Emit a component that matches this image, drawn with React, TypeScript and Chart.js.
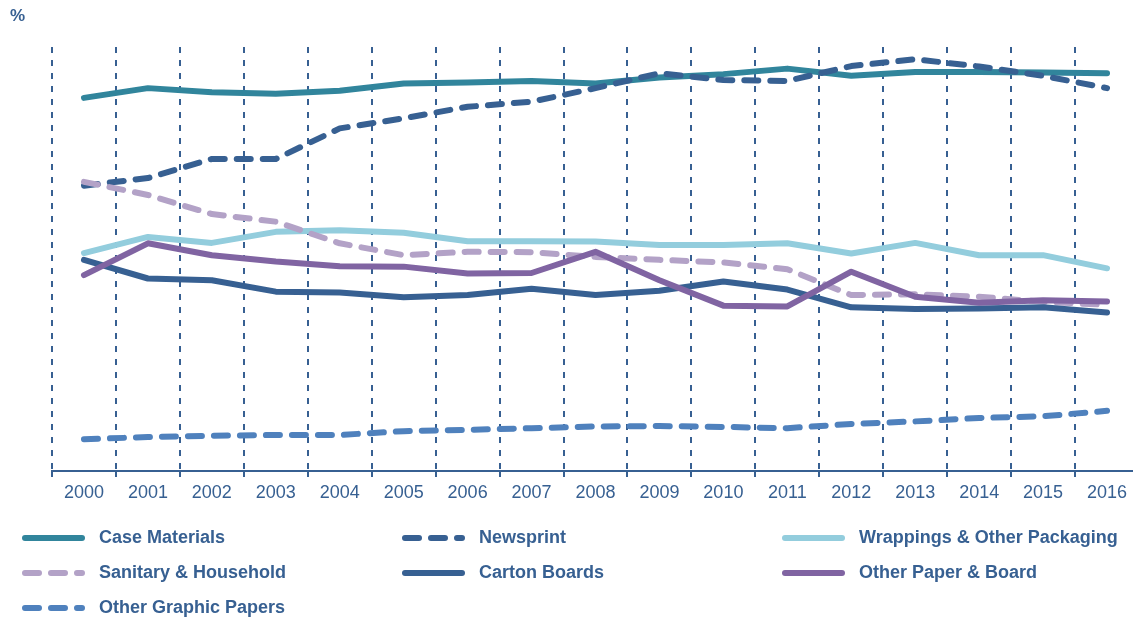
import React, { useEffect, useRef } from 'react';
import { Chart, registerables } from 'chart.js';

Chart.register(...registerables);

const years = ['2000', '2001', '2002', '2003', '2004', '2005', '2006', '2007', '2008', '2009', '2010', '2011', '2012', '2013', '2014', '2015', '2016'];

const caseMaterials = [88.0, 90.3, 89.3, 89.0, 89.7, 91.4, 91.6, 92.0, 91.4, 92.8, 93.6, 94.9, 93.2, 94.1, 94.1, 94.0, 93.8];
const newsprint = [67.3, 69.1, 73.6, 73.6, 80.8, 83.2, 85.9, 87.1, 90.3, 93.8, 92.2, 92.0, 95.5, 97.1, 95.4, 93.2, 90.3];
const wrappings = [51.4, 55.2, 53.8, 56.4, 56.8, 56.2, 54.2, 54.2, 54.1, 53.3, 53.3, 53.7, 51.3, 53.8, 50.9, 50.9, 47.8];
const sanitary = [68.2, 65.1, 60.6, 58.8, 53.7, 50.9, 51.7, 51.6, 50.5, 49.8, 49.2, 47.6, 41.5, 41.7, 41.1, 39.9, 39.2];
const cartonBoards = [49.8, 45.4, 45.0, 42.3, 42.1, 41.0, 41.5, 43.0, 41.5, 42.5, 44.7, 42.8, 38.6, 38.2, 38.3, 38.6, 37.4];
const otherPaper = [46.2, 53.7, 50.9, 49.4, 48.3, 48.2, 46.6, 46.7, 51.7, 45.0, 39.0, 38.8, 47.0, 41.1, 39.7, 40.3, 40.0];
const otherGraphic = [7.5, 8.0, 8.3, 8.5, 8.5, 9.4, 9.7, 10.1, 10.5, 10.6, 10.4, 10.1, 11.1, 11.7, 12.5, 12.9, 14.2];

const seriesNames = [
  'Case Materials',
  'Newsprint',
  'Wrappings & Other Packaging',
  'Sanitary & Household',
  'Carton Boards',
  'Other Paper & Board',
  'Other Graphic Papers',
];

const TEXT = '#376092';
const FONT = '"Liberation Sans", Arial, sans-serif';
const DASH = [14, 12];

const legendPlugin = {
  id: 'gridLegend',
  afterDraw(chart: any) {
    const ctx = chart.ctx as CanvasRenderingContext2D;
    ctx.save();
    ctx.fillStyle = TEXT;
    ctx.textBaseline = 'middle';
    ctx.textAlign = 'left';
    ctx.font = `bold 17px ${FONT}`;
    ctx.fillText('%', 10, 16);
    const colX = [22, 402, 782];
    const rowY = [538, 573, 608];
    chart.data.datasets.forEach((ds: any, i: number) => {
      const x0 = colX[i % 3];
      const y = rowY[Math.floor(i / 3)];
      ctx.beginPath();
      ctx.setLineDash(ds.borderDash || []);
      ctx.lineDashOffset = 0;
      ctx.lineWidth = 6;
      ctx.lineCap = 'round';
      ctx.strokeStyle = ds.borderColor;
      ctx.moveTo(x0 + 3, y);
      ctx.lineTo(x0 + 60, y);
      ctx.stroke();
      ctx.setLineDash([]);
      ctx.font = `bold 18px ${FONT}`;
      ctx.fillStyle = TEXT;
      ctx.fillText(ds.label, x0 + 77, y);
    });
    ctx.restore();
  },
};

export default function App() {
  const ref = useRef<HTMLCanvasElement | null>(null);

  useEffect(() => {
    document.body.style.margin = '0';
    document.body.style.overflow = 'hidden';
    if (!ref.current) return;
    const values = [caseMaterials, newsprint, wrappings, sanitary, cartonBoards, otherPaper, otherGraphic];
    const colors = ['#31859C', '#376092', '#93CDDD', '#B3A2C7', '#376092', '#8064A2', '#4F81BD'];
    const dashed = [false, true, false, true, false, false, true];
    const datasets = values.map((d, i) => ({
      label: seriesNames[i],
      data: d,
      borderColor: colors[i],
      backgroundColor: colors[i],
      borderWidth: 6,
      borderDash: dashed[i] ? DASH : [],
      borderCapStyle: 'round',
      borderJoinStyle: 'round',
      pointRadius: 0,
      pointHoverRadius: 0,
      tension: 0,
      fill: false,
      order: values.length - i,
    }));
    const chart = new Chart(ref.current, {
      type: 'line',
      data: { labels: years, datasets: datasets as any },
      options: {
        responsive: false,
        animation: false,
        devicePixelRatio: 1,
        layout: { padding: { left: 52, top: 47, right: 1, bottom: 109.4 } },
        plugins: {
          legend: { display: false },
          title: { display: false },
          tooltip: { enabled: false },
        },
        scales: {
          x: {
            type: 'category',
            offset: true,
            grid: {
              offset: true,
              color: '#376092',
              lineWidth: 2,
              tickLength: 6,
              tickColor: TEXT,
              tickWidth: 2,
              drawTicks: true,
            },
            border: { display: true, color: TEXT, width: 2, dash: [6, 7] },
            ticks: {
              color: TEXT,
              padding: 5,
              font: { family: FONT, size: 18 },
              maxRotation: 0,
              autoSkip: false,
            },
          },
          y: {
            display: false,
            min: 0,
            max: 100,
          },
        },
      },
      plugins: [legendPlugin],
    });
    return () => chart.destroy();
  }, []);

  return (
    <div style={{ width: 1140, height: 618, overflow: 'hidden' }}>
      <canvas ref={ref} width={1140} height={618} style={{ display: 'block' }} />
    </div>
  );
}
